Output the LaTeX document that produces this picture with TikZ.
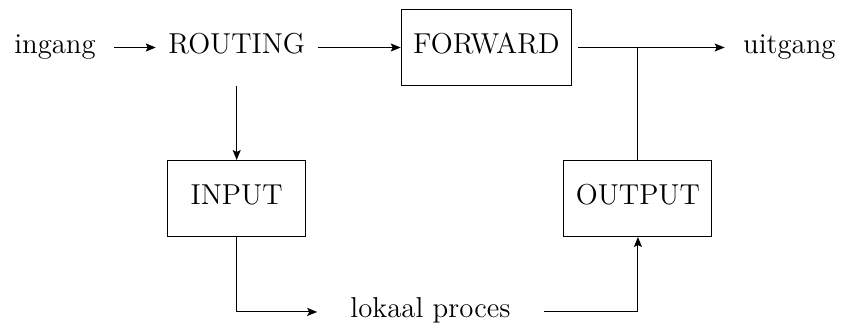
\documentclass[tikz,border=0pt]{standalone}
\usetikzlibrary{arrows.meta}

\begin{document}
\begin{tikzpicture}[>={Stealth[length=5pt,width=4pt,inset=1pt]}, line width=0.5pt,
    every node/.style={font=\Large, text height=1.6ex, text depth=.3ex},
    chain/.style={minimum height=38pt, minimum width=69pt, inner xsep=6pt},
    box/.style={chain, draw},
    io/.style={inner xsep=9pt}]
    \useasboundingbox (0,0) rectangle (14.80,5.747);

    % bovenste rij
    \node[io] (ingang) at (0.967,4.912) {ingang};
    \node[chain] (routing) at (4.16,4.912) {ROUTING};
    \node[box] (forward) at (8.550,4.912) {FORWARD};
    \node[io] (uitgang) at (13.875,4.912) {uitgang};

    % ketens naar en van het lokale proces
    \node[box] (input) at (4.16,2.258) {INPUT};
    \node[box] (output) at (11.213,2.258) {OUTPUT};
    \node[inner xsep=16.4pt] (lokaal) at (7.566,0.264) {lokaal proces};

    \draw[->] (ingang) -- (routing);
    \draw[->] (routing) -- (forward);
    \draw[->, shorten <=3pt] (forward) -- (uitgang);

    \draw[->] (routing) -- (input);
    \draw[->] (input) |- (lokaal);
    \draw[->] (lokaal) -| (output);
    \draw (output.north) -- (output.north |- forward.east);
\end{tikzpicture}
\end{document}
